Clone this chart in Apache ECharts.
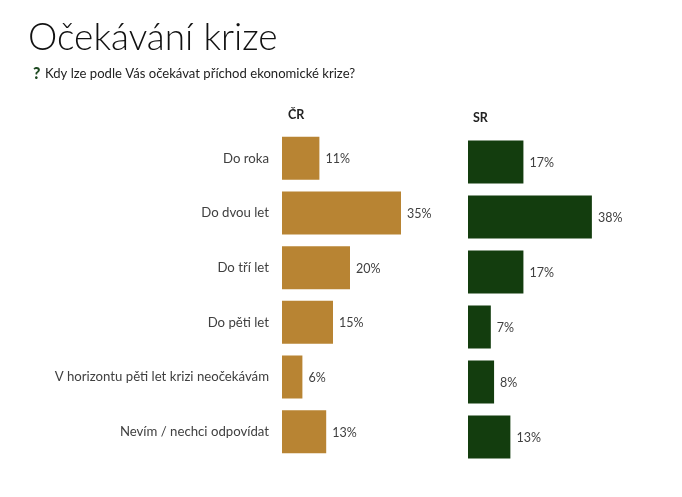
<!DOCTYPE html>
<html><head><meta charset="utf-8">
<style>html,body{margin:0;padding:0;background:#fff}#c{width:682px;height:497px}</style>
<script src="https://cdn.jsdelivr.net/npm/echarts@6/dist/echarts.min.js"></script>
</head><body><div id="c"></div>
<script>
const categories = ['Do roka','Do dvou let','Do tří let','Do pěti let','V horizontu pěti let krizi neočekávám','Nevím / nechci odpovídat'];
const crValues = [11,35,20,15,6,13];
const srValues = [17,38,17,7,8,13];
const font = 'Lato, "Open Sans", sans-serif';
const chart = echarts.init(document.getElementById('c'), null, {renderer:'canvas'});
function lbl(){return {show:true,position:'right',distance:6,offset:[0,1],formatter:'{c}%',fontFamily:font,fontSize:12.5,color:'#404040'};}
chart.setOption({
  animation:false,
  backgroundColor:'#fff',
  title:[
    {text:'Očekávání krize',left:28,top:20,padding:0,textStyle:{fontFamily:font,fontWeight:300,fontSize:37,color:'#111'}},
    {text:'?',left:33,top:66,padding:0,textStyle:{fontFamily:font,fontWeight:900,fontSize:16,color:'#1f4a22'}},
    {text:'Kdy lze podle Vás očekávat příchod ekonomické krize?',left:45,top:67,padding:0,textStyle:{fontFamily:font,fontWeight:400,fontSize:13.1,color:'#222'}},
    {text:'ČR',left:288,top:108,padding:0,textStyle:{fontFamily:font,fontWeight:700,fontSize:12.5,color:'#222'}},
    {text:'SR',left:473,top:111,padding:0,textStyle:{fontFamily:font,fontWeight:700,fontSize:12.5,color:'#222'}}
  ],
  grid:[
    {left:282,top:131,width:170,height:328},
    {left:468,top:134.5,width:163,height:330}
  ],
  xAxis:[
    {gridIndex:0,type:'value',min:0,max:50,show:false},
    {gridIndex:1,type:'value',min:0,max:50,show:false}
  ],
  yAxis:[
    {gridIndex:0,type:'category',inverse:true,data:categories,axisLine:{show:false},axisTick:{show:false},
     axisLabel:{fontFamily:font,fontSize:13.2,color:'#404040',margin:13,padding:[2,0,0,0]}},
    {gridIndex:1,type:'category',inverse:true,data:categories,axisLine:{show:false},axisTick:{show:false},axisLabel:{show:false}}
  ],
  series:[
    {name:'ČR',type:'bar',xAxisIndex:0,yAxisIndex:0,data:crValues,barWidth:43,itemStyle:{color:'#b88433'},label:lbl()},
    {name:'SR',type:'bar',xAxisIndex:1,yAxisIndex:1,data:srValues,barWidth:43,itemStyle:{color:'#133d0e'},label:lbl()}
  ]
});
</script></body></html>
